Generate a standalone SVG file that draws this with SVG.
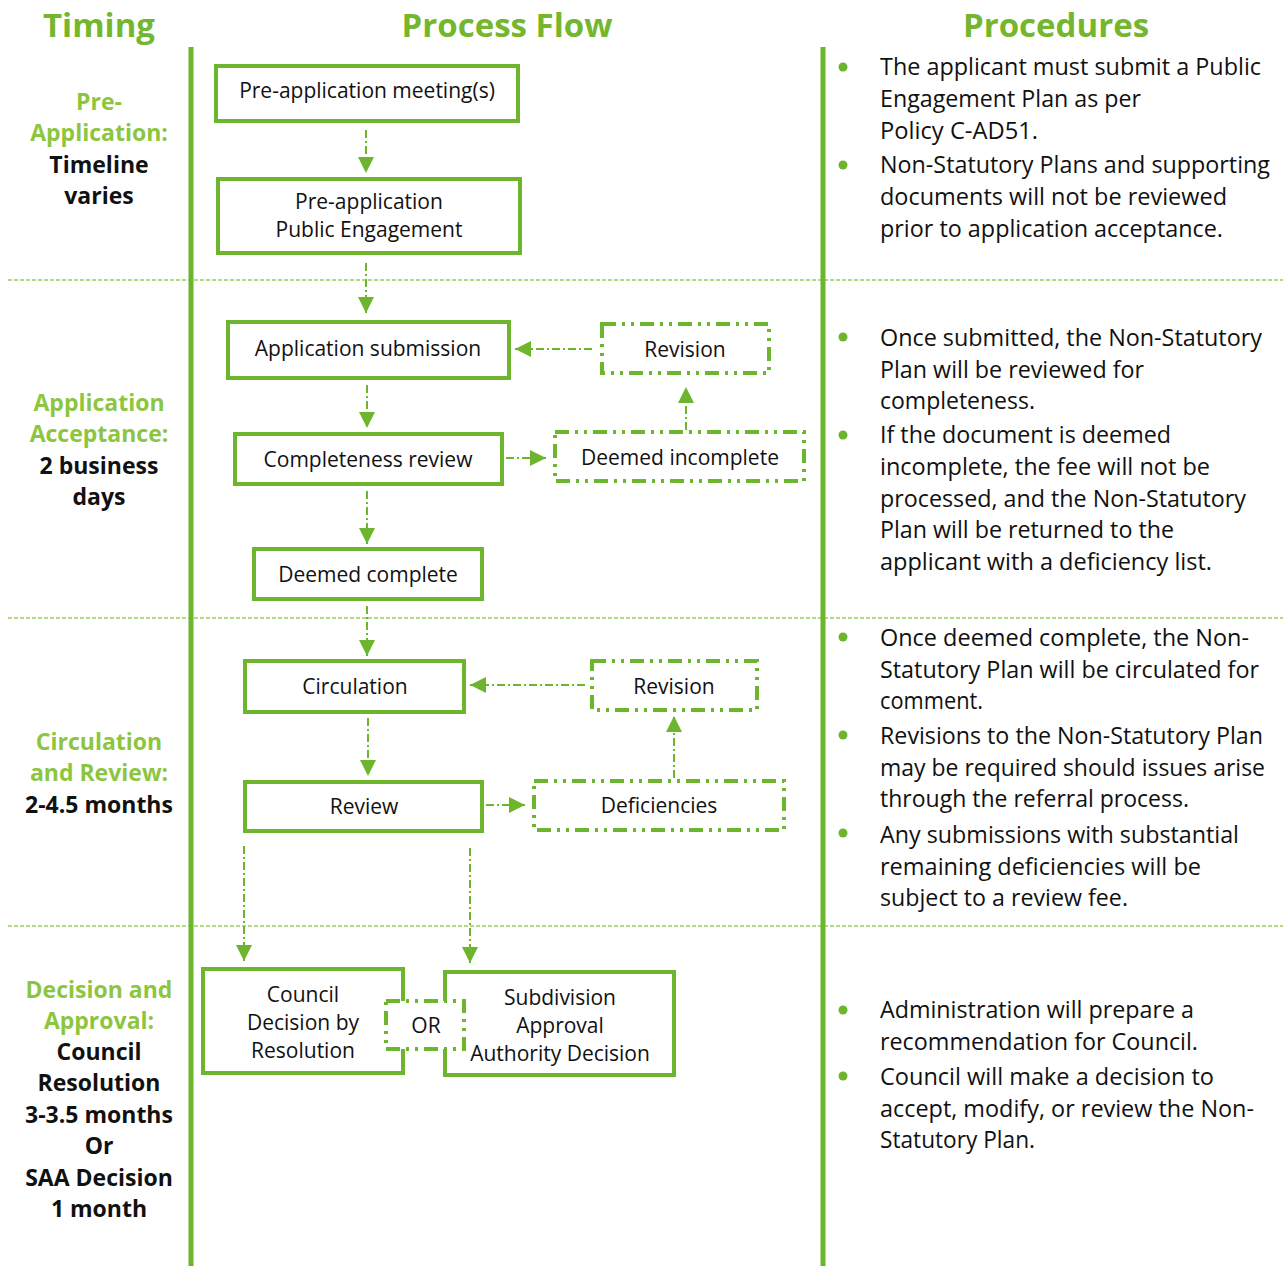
<svg xmlns="http://www.w3.org/2000/svg" width="1283" height="1266" viewBox="0 0 1283 1266">
<defs>
<style>
.hd{font-family:"Open Sans","Liberation Sans",sans-serif;font-weight:bold;font-size:33px;fill:#74b72e;text-anchor:middle}
.tg{font-family:"Open Sans","Liberation Sans",sans-serif;font-weight:bold;font-size:23px;fill:#8cc63f;text-anchor:middle}
.tb{font-family:"Open Sans","Liberation Sans",sans-serif;font-weight:bold;font-size:23px;fill:#111;text-anchor:middle}
.bx{fill:#fff;stroke:#6cb52d;stroke-width:4}
.dbx{fill:#fff;stroke:#6cb52d;stroke-width:4;stroke-dasharray:14 6 3 6 3 6}
.bt{font-family:"Open Sans","Liberation Sans",sans-serif;font-size:21px;fill:#111;text-anchor:middle}
.pr{font-family:"Open Sans","Liberation Sans",sans-serif;font-size:23px;fill:#111}
.bul{fill:#6cb52d}
.sep{stroke:#9ccd5e;stroke-width:1.3;stroke-dasharray:4 2;fill:none}
.vl{stroke:#6cb52d;stroke-width:5}
.ar{stroke:#6cb52d;stroke-width:2;fill:none;stroke-dasharray:8 3 2 3;marker-end:url(#ah)}
</style>
<marker id="ah" markerUnits="userSpaceOnUse" markerWidth="16" markerHeight="16" refX="16" refY="8" orient="auto" viewBox="0 0 16 16">
<path d="M0,0 L16,8 L0,16 z" fill="#6cb52d"/>
</marker>
</defs>
<rect width="1283" height="1266" fill="#fff"/>

<g id="headers">
<text class="hd" x="99" y="37">Timing</text>
<text class="hd" x="507" y="37">Process Flow</text>
<text class="hd" x="1056" y="37">Procedures</text>
</g>

<g id="grid">
<line class="sep" x1="8" y1="280" x2="1283" y2="280"/>
<line class="sep" x1="8" y1="618" x2="1283" y2="618"/>
<line class="sep" x1="8" y1="926" x2="1283" y2="926"/>
<line class="vl" x1="191" y1="47" x2="191" y2="1266"/>
<line class="vl" x1="823" y1="47" x2="823" y2="1266"/>
</g>

<g id="timing">
<text class="tg" x="99" y="110">Pre-</text>
<text class="tg" x="99" y="141">Application:</text>
<text class="tb" x="99" y="173">Timeline</text>
<text class="tb" x="99" y="204">varies</text>
<text class="tg" x="99" y="411">Application</text>
<text class="tg" x="99" y="442">Acceptance:</text>
<text class="tb" x="99" y="474">2 business</text>
<text class="tb" x="99" y="505">days</text>
<text class="tg" x="99" y="750">Circulation</text>
<text class="tg" x="99" y="781">and Review:</text>
<text class="tb" x="99" y="813">2-4.5 months</text>
<text class="tg" x="99" y="998">Decision and</text>
<text class="tg" x="99" y="1029">Approval:</text>
<text class="tb" x="99" y="1060">Council</text>
<text class="tb" x="99" y="1091">Resolution</text>
<text class="tb" x="99" y="1123">3-3.5 months</text>
<text class="tb" x="99" y="1154">Or</text>
<text class="tb" x="99" y="1186">SAA Decision</text>
<text class="tb" x="99" y="1217">1 month</text>
</g>

<g id="connectors">
<line class="ar" x1="366" y1="130" x2="366" y2="173"/>
<line class="ar" x1="366" y1="263" x2="366" y2="313"/>
<line class="ar" x1="367" y1="385" x2="367" y2="428"/>
<line class="ar" x1="367" y1="491" x2="367" y2="544"/>
<line class="ar" x1="367" y1="606" x2="367" y2="656"/>
<line class="ar" x1="368" y1="718" x2="368" y2="776"/>
<line class="ar" x1="592" y1="349" x2="515" y2="349"/>
<line class="ar" x1="686" y1="430" x2="686" y2="387"/>
<line class="ar" x1="506" y1="458" x2="546" y2="458"/>
<line class="ar" x1="585" y1="685" x2="470" y2="685"/>
<line class="ar" x1="674" y1="778" x2="674" y2="716"/>
<line class="ar" x1="486" y1="805" x2="525" y2="805"/>
<line class="ar" x1="244" y1="846" x2="244" y2="961"/>
<line class="ar" x1="470" y1="848" x2="470" y2="963"/>
</g>

<g id="n-premeeting">
<rect class="bx" x="216" y="66" width="302" height="55"/>
<text class="bt" x="367" y="98">Pre-application meeting(s)</text>
</g>
<g id="n-preengage">
<rect class="bx" x="218" y="179" width="302" height="74"/>
<text class="bt" x="369" y="209">Pre-application</text>
<text class="bt" x="369" y="237">Public Engagement</text>
</g>
<g id="n-submission">
<rect class="bx" x="228" y="322" width="281" height="56"/>
<text class="bt" x="368" y="356">Application submission</text>
</g>
<g id="n-revision1">
<rect class="dbx" x="602" y="324" width="167" height="49"/>
<text class="bt" x="685" y="357">Revision</text>
</g>
<g id="n-completeness">
<rect class="bx" x="235" y="434" width="267" height="50"/>
<text class="bt" x="368" y="467">Completeness review</text>
</g>
<g id="n-incomplete">
<rect class="dbx" x="555" y="432" width="249" height="49"/>
<text class="bt" x="680" y="465">Deemed incomplete</text>
</g>
<g id="n-complete">
<rect class="bx" x="254" y="549" width="228" height="50"/>
<text class="bt" x="368" y="582">Deemed complete</text>
</g>
<g id="n-circulation">
<rect class="bx" x="245" y="661" width="219" height="51"/>
<text class="bt" x="355" y="694">Circulation</text>
</g>
<g id="n-revision2">
<rect class="dbx" x="592" y="661" width="165" height="49"/>
<text class="bt" x="674" y="694">Revision</text>
</g>
<g id="n-review">
<rect class="bx" x="245" y="782" width="237" height="49"/>
<text class="bt" x="364" y="814">Review</text>
</g>
<g id="n-deficiencies">
<rect class="dbx" x="534" y="781" width="250" height="49"/>
<text class="bt" x="659" y="813">Deficiencies</text>
</g>
<g id="n-council">
<rect class="bx" x="203" y="969" width="200" height="104"/>
<text class="bt" x="303" y="1002">Council</text>
<text class="bt" x="303" y="1030">Decision by</text>
<text class="bt" x="303" y="1058">Resolution</text>
</g>
<g id="n-saa">
<rect class="bx" x="445" y="972" width="229" height="103"/>
<text class="bt" x="560" y="1005">Subdivision</text>
<text class="bt" x="560" y="1033">Approval</text>
<text class="bt" x="560" y="1061">Authority Decision</text>
</g>
<g id="n-or">
<rect class="dbx" x="386" y="1001" width="78" height="48"/>
<text class="bt" x="426" y="1033">OR</text>
</g>

<g id="procedures">
<circle class="bul" cx="843" cy="67" r="4.5"/>
<circle class="bul" cx="843" cy="165" r="4.5"/>
<text class="pr" x="880" y="75" textLength="381" lengthAdjust="spacingAndGlyphs">The applicant must submit a Public</text>
<text class="pr" x="880" y="107" textLength="261" lengthAdjust="spacingAndGlyphs">Engagement Plan as per</text>
<text class="pr" x="880" y="139" textLength="158" lengthAdjust="spacingAndGlyphs">Policy C-AD51.</text>
<text class="pr" x="880" y="173" textLength="390" lengthAdjust="spacingAndGlyphs">Non-Statutory Plans and supporting</text>
<text class="pr" x="880" y="205" textLength="347" lengthAdjust="spacingAndGlyphs">documents will not be reviewed</text>
<text class="pr" x="880" y="237" textLength="343" lengthAdjust="spacingAndGlyphs">prior to application acceptance.</text>

<circle class="bul" cx="843" cy="337" r="4.5"/>
<circle class="bul" cx="843" cy="435" r="4.5"/>
<text class="pr" x="880" y="346" textLength="382" lengthAdjust="spacingAndGlyphs">Once submitted, the Non-Statutory</text>
<text class="pr" x="880" y="378" textLength="264" lengthAdjust="spacingAndGlyphs">Plan will be reviewed for</text>
<text class="pr" x="880" y="409" textLength="155" lengthAdjust="spacingAndGlyphs">completeness.</text>
<text class="pr" x="880" y="443" textLength="291" lengthAdjust="spacingAndGlyphs">If the document is deemed</text>
<text class="pr" x="880" y="475" textLength="330" lengthAdjust="spacingAndGlyphs">incomplete, the fee will not be</text>
<text class="pr" x="880" y="507" textLength="366" lengthAdjust="spacingAndGlyphs">processed, and the Non-Statutory</text>
<text class="pr" x="880" y="538" textLength="294" lengthAdjust="spacingAndGlyphs">Plan will be returned to the</text>
<text class="pr" x="880" y="570" textLength="332" lengthAdjust="spacingAndGlyphs">applicant with a deficiency list.</text>

<circle class="bul" cx="843" cy="637" r="4.5"/>
<circle class="bul" cx="843" cy="735" r="4.5"/>
<circle class="bul" cx="843" cy="833" r="4.5"/>
<text class="pr" x="880" y="646" textLength="369" lengthAdjust="spacingAndGlyphs">Once deemed complete, the Non-</text>
<text class="pr" x="880" y="678" textLength="379" lengthAdjust="spacingAndGlyphs">Statutory Plan will be circulated for</text>
<text class="pr" x="880" y="709" textLength="103" lengthAdjust="spacingAndGlyphs">comment.</text>
<text class="pr" x="880" y="744" textLength="383" lengthAdjust="spacingAndGlyphs">Revisions to the Non-Statutory Plan</text>
<text class="pr" x="880" y="776" textLength="385" lengthAdjust="spacingAndGlyphs">may be required should issues arise</text>
<text class="pr" x="880" y="807" textLength="309" lengthAdjust="spacingAndGlyphs">through the referral process.</text>
<text class="pr" x="880" y="843" textLength="359" lengthAdjust="spacingAndGlyphs">Any submissions with substantial</text>
<text class="pr" x="880" y="875" textLength="321" lengthAdjust="spacingAndGlyphs">remaining deficiencies will be</text>
<text class="pr" x="880" y="906" textLength="248" lengthAdjust="spacingAndGlyphs">subject to a review fee.</text>

<circle class="bul" cx="843" cy="1010" r="4.5"/>
<circle class="bul" cx="843" cy="1076" r="4.5"/>
<text class="pr" x="880" y="1018" textLength="314" lengthAdjust="spacingAndGlyphs">Administration will prepare a</text>
<text class="pr" x="880" y="1050" textLength="318" lengthAdjust="spacingAndGlyphs">recommendation for Council.</text>
<text class="pr" x="880" y="1085" textLength="334" lengthAdjust="spacingAndGlyphs">Council will make a decision to</text>
<text class="pr" x="880" y="1117" textLength="374" lengthAdjust="spacingAndGlyphs">accept, modify, or review the Non-</text>
<text class="pr" x="880" y="1148" textLength="155" lengthAdjust="spacingAndGlyphs">Statutory Plan.</text>
</g>
</svg>
